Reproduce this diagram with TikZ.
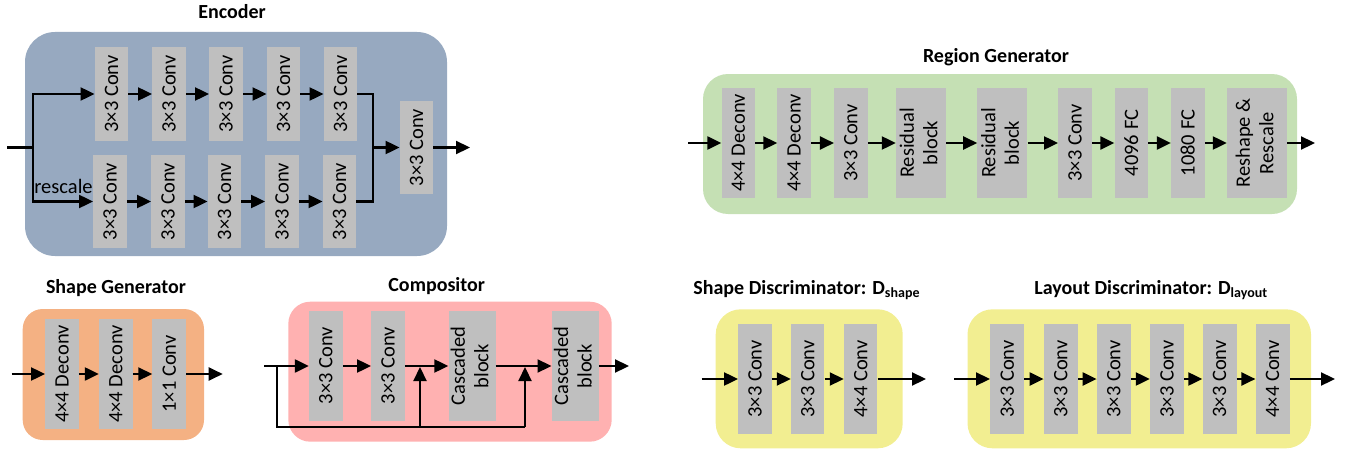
\documentclass[tikz,border=0pt]{standalone}
\usepackage{fontspec}
\setmainfont{Carlito}
\usetikzlibrary{arrows.meta}
\definecolor{encblue}{RGB}{151,169,192}
\definecolor{reggreen}{RGB}{197,224,180}
\definecolor{shporange}{RGB}{244,177,131}
\definecolor{cmppink}{RGB}{255,177,177}
\definecolor{dscyellow}{RGB}{242,238,145}
\definecolor{blkgray}{RGB}{191,191,191}
\newcommand\blkfont{\fontsize{20.5}{23.5}\selectfont}
\newcommand\ttlfont{\fontsize{20}{24}\selectfont\bfseries}
\newcommand\twolines[2]{\rotatebox{90}{\begin{tabular}{@{}c@{}}#1\\#2\end{tabular}}}

\begin{document}
\begin{tikzpicture}[x=1pt,y=-1pt,
  blk/.style={fill=blkgray,inner sep=0pt,font=\blkfont,minimum width=#1},
  blk/.default=33.5pt,
  ttl/.style={font=\ttlfont},
  ln/.style={line width=2.2pt},
  arr/.style={line width=2.2pt,-{Triangle[length=14pt,width=13pt]}}]
\useasboundingbox (0,0) rectangle (1351,452);

\fill[encblue,rounded corners=30pt] (25,32) rectangle (447,256);
\node[ttl] (enctitle) at (232,12) {Encoder};
\node[blk,minimum height=94pt] (e1) at (111.5,94) {\rotatebox{90}{3×3 Conv}};
\node[blk,minimum height=94pt] (e2) at (169,94) {\rotatebox{90}{3×3 Conv}};
\node[blk,minimum height=94pt] (e3) at (226,94) {\rotatebox{90}{3×3 Conv}};
\node[blk,minimum height=94pt] (e4) at (283.5,94) {\rotatebox{90}{3×3 Conv}};
\node[blk,minimum height=94pt] (e5) at (340.5,94) {\rotatebox{90}{3×3 Conv}};
\node[blk,minimum height=93pt] (r1) at (110,201.5) {\rotatebox{90}{3×3 Conv}};
\node[blk,minimum height=93pt] (r2) at (168,201.5) {\rotatebox{90}{3×3 Conv}};
\node[blk,minimum height=93pt] (r3) at (224.5,201.5) {\rotatebox{90}{3×3 Conv}};
\node[blk,minimum height=93pt] (r4) at (282,201.5) {\rotatebox{90}{3×3 Conv}};
\node[blk,minimum height=93pt] (r5) at (339.5,201.5) {\rotatebox{90}{3×3 Conv}};
\node[blk,minimum height=93pt] (ef) at (416.5,147.5) {\rotatebox{90}{3×3 Conv}};
\node[font=\blkfont] (rescale) at (63.5,186) {rescale};
\coordinate (ein) at (7,147.5);
\coordinate (esplit) at (33,147.5);
\coordinate (emerge) at (373,147.5);
\coordinate (eout) at (470,147.5);
\draw[ln] (ein) -- (esplit);
\draw[arr] (esplit) |- (e1.west);
\draw[arr] (esplit) |- (r1.west);
\draw[arr] (e1) -- (e2);
\draw[arr] (e2) -- (e3);
\draw[arr] (e3) -- (e4);
\draw[arr] (e4) -- (e5);
\draw[arr] (r1) -- (r2);
\draw[arr] (r2) -- (r3);
\draw[arr] (r3) -- (r4);
\draw[arr] (r4) -- (r5);
\draw[ln] (e5.east) -| (emerge) |- (r5.east);
\draw[arr] (emerge) -- (ef.west);
\draw[arr] (ef) -- (eout);

\fill[reggreen,rounded corners=25pt] (703,74) rectangle (1297,214);
\node[ttl] (regtitle) at (996,57) {Region Generator};
\node[blk,minimum height=110pt] (g1) at (738.3,143) {\rotatebox{90}{4×4 Deconv}};
\node[blk,minimum height=110pt] (g2) at (794.2,143) {\rotatebox{90}{4×4 Deconv}};
\node[blk,minimum height=110pt] (g3) at (850.9,143) {\rotatebox{90}{3×3 Conv}};
\node[blk=50pt,minimum height=110pt] (g4) at (921,143) {\twolines{Residual}{block}};
\node[blk=50pt,minimum height=110pt] (g5) at (1002.4,143) {\twolines{Residual}{block}};
\node[blk,minimum height=110pt] (g6) at (1075,143) {\rotatebox{90}{3×3 Conv}};
\node[blk,minimum height=110pt] (g7) at (1131.3,143) {\rotatebox{90}{4096 FC}};
\node[blk,minimum height=110pt] (g8) at (1187.8,143) {\rotatebox{90}{1080 FC}};
\node[blk=60pt,minimum height=110pt] (g9) at (1257,143) {\twolines{Reshape \&}{Rescale}};
\coordinate (gin) at (688,143);
\coordinate (gout) at (1315,143);
\draw[arr] (gin) -- (g1);
\draw[arr] (g1) -- (g2);
\draw[arr] (g2) -- (g3);
\draw[arr] (g3) -- (g4);
\draw[arr] (g4) -- (g5);
\draw[arr] (g5) -- (g6);
\draw[arr] (g6) -- (g7);
\draw[arr] (g7) -- (g8);
\draw[arr] (g8) -- (g9);
\draw[arr] (g9) -- (gout);

\fill[shporange,rounded corners=20pt] (22.7,309) rectangle (204,440);
\node[ttl] (shptitle) at (116,288) {Shape Generator};
\node[blk,minimum height=110pt] (s1) at (62,374) {\rotatebox{90}{4×4 Deconv}};
\node[blk,minimum height=110pt] (s2) at (115.8,374) {\rotatebox{90}{4×4 Deconv}};
\node[blk,minimum height=110pt] (s3) at (169.2,374) {\rotatebox{90}{1×1 Conv}};
\coordinate (sin) at (11.7,374);
\coordinate (sout) at (222.7,374);
\draw[arr] (sin) -- (s1);
\draw[arr] (s1) -- (s2);
\draw[arr] (s2) -- (s3);
\draw[arr] (s3) -- (sout);

\fill[cmppink,rounded corners=22pt] (288.3,301.7) rectangle (611.7,441.7);
\node[ttl] (cmptitle) at (436.7,285.7) {Compositor};
\node[blk,minimum height=110pt] (c1) at (325.8,365.5) {\rotatebox{90}{3×3 Conv}};
\node[blk,minimum height=110pt] (c2) at (388,365.5) {\rotatebox{90}{3×3 Conv}};
\node[blk=46pt,minimum height=110pt] (c3) at (472,366.3) {\twolines{Cascaded}{block}};
\node[blk=45pt,minimum height=110pt] (c4) at (575.2,366.3) {\twolines{Cascaded}{block}};
\coordinate (cin) at (264,366);
\coordinate (cskip) at (276.7,366);
\coordinate (cjoin1) at (420,367);
\coordinate (cjoin2) at (525,367);
\coordinate (cbot1) at (420,427);
\coordinate (cbot2) at (525,427);
\coordinate (cout) at (629,366);
\draw[arr] (cin) -- (c1.west|-cin);
\draw[arr] (c1.east|-cin) -- (c2.west|-cin);
\draw[arr] (c2.east|-cin) -- (c3.west|-cin);
\draw[arr] (c3.east|-cin) -- (c4.west|-cin);
\draw[arr] (c4.east|-cin) -- (cout);
\draw[line width=1.6pt] (cskip) |- (cbot2);
\draw[arr] (cbot1) -- (cjoin1);
\draw[arr] (cbot2) -- (cjoin2);

\fill[dscyellow,rounded corners=25pt] (715.7,309.3) rectangle (902.7,448.3);
\node[ttl] (dstitle) at (806.7,290) {Shape Discriminator: D\textsubscript{shape}};
\node[blk,minimum height=110pt] (d1) at (755,379) {\rotatebox{90}{3×3 Conv}};
\node[blk,minimum height=110pt] (d2) at (807.7,379) {\rotatebox{90}{3×3 Conv}};
\node[blk,minimum height=110pt] (d3) at (860.7,379) {\rotatebox{90}{4×4 Conv}};
\coordinate (din) at (701.7,379);
\coordinate (dout) at (926,379);
\draw[arr] (din) -- (d1);
\draw[arr] (d1) -- (d2);
\draw[arr] (d2) -- (d3);
\draw[arr] (d3) -- (dout);

\fill[dscyellow,rounded corners=25pt] (967.5,309.3) rectangle (1311,448.3);
\node[ttl] (dltitle) at (1151,290) {Layout Discriminator: D\textsubscript{layout}};
\node[blk=34pt,minimum height=110pt] (l1) at (1007.2,379) {\rotatebox{90}{3×3 Conv}};
\node[blk=34pt,minimum height=110pt] (l2) at (1060.8,379) {\rotatebox{90}{3×3 Conv}};
\node[blk=34pt,minimum height=110pt] (l3) at (1113.8,379) {\rotatebox{90}{3×3 Conv}};
\node[blk=34pt,minimum height=110pt] (l4) at (1167,379) {\rotatebox{90}{3×3 Conv}};
\node[blk=34pt,minimum height=110pt] (l5) at (1219.5,379) {\rotatebox{90}{3×3 Conv}};
\node[blk=34pt,minimum height=110pt] (l6) at (1272.6,379) {\rotatebox{90}{4×4 Conv}};
\coordinate (lin) at (954,379);
\coordinate (lout) at (1335,379);
\draw[arr] (lin) -- (l1);
\draw[arr] (l1) -- (l2);
\draw[arr] (l2) -- (l3);
\draw[arr] (l3) -- (l4);
\draw[arr] (l4) -- (l5);
\draw[arr] (l5) -- (l6);
\draw[arr] (l6) -- (lout);
\end{tikzpicture}
\end{document}
